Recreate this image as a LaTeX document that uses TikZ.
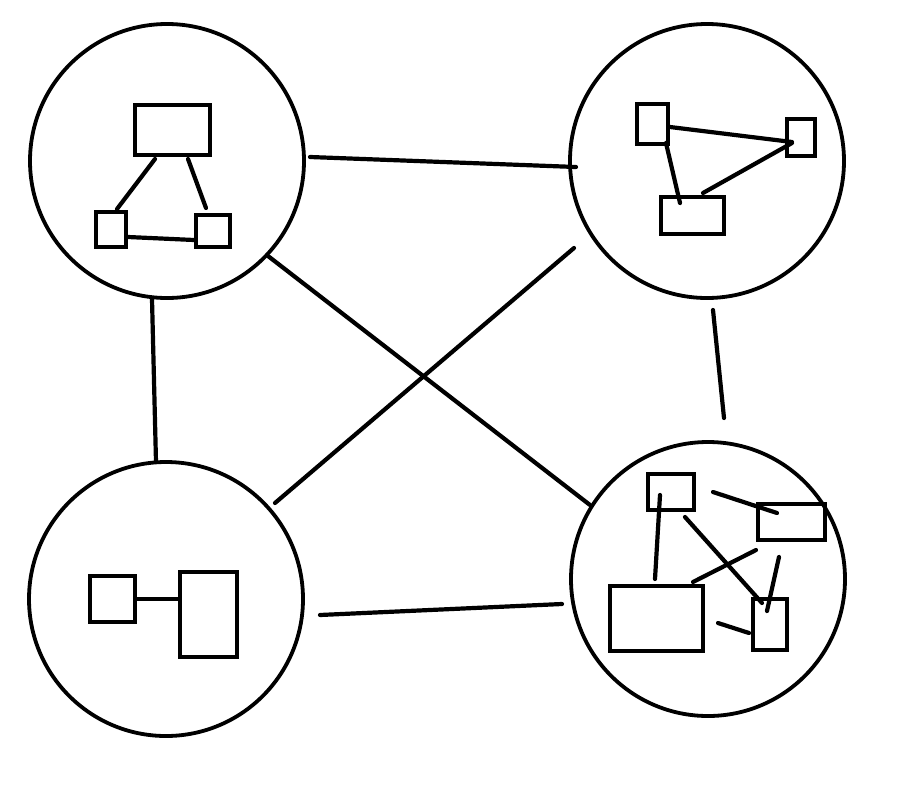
\documentclass[tikz,border=0pt]{standalone}
\begin{document}
\begin{tikzpicture}[x=1pt,y=-1pt,
  hub/.style={draw, circle, line width=3.8pt, minimum size=274pt, inner sep=0pt},
  box/.style={draw, rectangle, line width=4.2pt, inner sep=0pt},
  link/.style={line width=4.2pt, line cap=round}]
\useasboundingbox[fill=white] (0,0) rectangle (905,801);
% hubs
\node[hub] (tl) at (167,161) {};
\node[hub] (tr) at (707,161) {};
\node[hub] (bl) at (166,599) {};
\node[hub] (br) at (708,579) {};
% boxes in top-left hub
\node[box, minimum width=75pt, minimum height=50pt] (tla) at (172.5,130) {};
\node[box, minimum width=30pt, minimum height=35pt] (tlb) at (111,229.5) {};
\node[box, minimum width=34pt, minimum height=32pt] (tlc) at (213,231) {};
% boxes in top-right hub
\node[box, minimum width=31pt, minimum height=40pt] (tra) at (652.5,124) {};
\node[box, minimum width=28pt, minimum height=37pt] (trb) at (801,137.5) {};
\node[box, minimum width=63pt, minimum height=37pt] (trc) at (692.5,215.5) {};
% boxes in bottom-right hub
\node[box, minimum width=46pt, minimum height=36pt] (bra) at (671,492) {};
\node[box, minimum width=67pt, minimum height=36pt] (brb) at (791.5,522) {};
\node[box, minimum width=93pt, minimum height=65pt] (brc) at (656.5,618.5) {};
\node[box, minimum width=34pt, minimum height=51pt] (brd) at (770,624.5) {};
% boxes in bottom-left hub
\node[box, minimum width=45pt, minimum height=46pt] (bla) at (112.5,599) {};
\node[box, minimum width=57pt, minimum height=85pt] (blb) at (208.5,614.5) {};
% connector end points
\coordinate (p1) at (310,157);  \coordinate (q1) at (576,167);
\coordinate (p2) at (152,299);  \coordinate (q2) at (156,462);
\coordinate (p3) at (268,256);  \coordinate (q3) at (590,505);
\coordinate (p4) at (574,248);  \coordinate (q4) at (275,503);
\coordinate (p5) at (713,310);  \coordinate (q5) at (724,418);
\coordinate (p6) at (320,615);  \coordinate (q6) at (562,604);
% inner connector end points
\coordinate (a1) at (155,159);  \coordinate (b1) at (117,209);
\coordinate (a2) at (188,159);  \coordinate (b2) at (206,208);
\coordinate (a3) at (128,237);  \coordinate (b3) at (194,240);
\coordinate (c1) at (670,127);  \coordinate (d1) at (792,142);
\coordinate (c2) at (666,143);  \coordinate (d2) at (680,203);
\coordinate (c3) at (703,193);  \coordinate (d3) at (792,143);
\coordinate (e1) at (713,492);  \coordinate (f1) at (777,513);
\coordinate (e2) at (660,495);  \coordinate (f2) at (655,579);
\coordinate (e3) at (685,517);  \coordinate (f3) at (762,603);
\coordinate (e4) at (756,550);  \coordinate (f4) at (693,582);
\coordinate (e5) at (779,557);  \coordinate (f5) at (767,611);
\coordinate (e6) at (718,623);  \coordinate (f6) at (749,633);
\coordinate (g1) at (137,599);  \coordinate (h1) at (178,599);
% hub connectors
\draw[link] (p1) -- (q1);
\draw[link] (p2) -- (q2);
\draw[link] (p3) -- (q3);
\draw[link] (p4) -- (q4);
\draw[link] (p5) -- (q5);
\draw[link] (p6) -- (q6);
% inner connectors
\draw[link] (a1) -- (b1);
\draw[link] (a2) -- (b2);
\draw[link] (a3) -- (b3);
\draw[link] (c1) -- (d1);
\draw[link] (c2) -- (d2);
\draw[link] (c3) -- (d3);
\draw[link] (e1) -- (f1);
\draw[link] (e2) -- (f2);
\draw[link] (e3) -- (f3);
\draw[link] (e4) -- (f4);
\draw[link] (e5) -- (f5);
\draw[link] (e6) -- (f6);
\draw[link, line cap=butt] (g1) -- (h1);
\end{tikzpicture}
\end{document}
